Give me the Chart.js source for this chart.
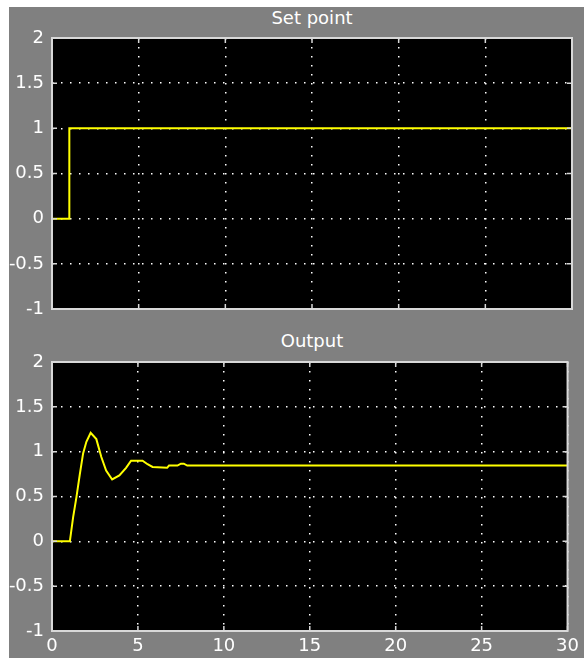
<!DOCTYPE html>
<html>
<head>
<meta charset="utf-8">
<script src="https://cdn.jsdelivr.net/npm/chart.js@4"></script>
<style>
  body { margin: 0; background: #ffffff; width: 584px; height: 658px; overflow: hidden; position: relative; }
  #fundo { position: absolute; left: 9px; top: 7px; width: 575px; height: 651px; background: #808080; }
  canvas { position: absolute; left: 0; }
  .titulo { position: absolute; left: 52px; width: 520px; text-align: center; color: #ffffff;
            font-family: "DejaVu Sans", sans-serif; font-size: 18px; line-height: 22px; }
</style>
</head>
<body>
<div id="fundo"></div>
<div class="titulo" style="top:7px">Set point</div>
<div class="titulo" style="top:330px">Output</div>
<canvas id="chartSetPoint" width="584" height="330" style="top:0"></canvas>
<canvas id="chartOutput" width="584" height="328" style="top:330px"></canvas>
<script>
const tempoSetPoint = [0, 1, 1, 30];
const valorSetPoint = [0, 0, 1, 1];

const tempoOutput = [0, 1.04, 1.23, 1.42, 1.62, 1.81, 2.0, 2.25, 2.58, 2.87, 3.15, 3.5, 3.92, 4.31, 4.6, 5.27, 5.56, 5.85, 6.7, 6.81, 7.3, 7.5, 7.67, 7.87, 30];
const valorOutput = [0, 0, 0.27, 0.49, 0.75, 0.98, 1.11, 1.21, 1.14, 0.94, 0.79, 0.69, 0.735, 0.82, 0.90, 0.90, 0.86, 0.83, 0.82, 0.845, 0.845, 0.866, 0.866, 0.845, 0.845];

const eixoX = { min: 0, max: 30, passo: 5 };
const eixoY = { min: -1, max: 2, passo: 0.5 };

const fonte = { family: "DejaVu Sans", size: 18 };

// fundo preto, borda e marcas de tick do scope
const molduraScope = {
  id: 'molduraScope',
  beforeDraw(chart) {
    const a = chart.chartArea;
    const ctx = chart.ctx;
    ctx.save();
    ctx.fillStyle = '#000000';
    ctx.fillRect(a.left, a.top, a.right - a.left, a.bottom - a.top);
    ctx.restore();
  },
  afterDraw(chart) {
    const a = chart.chartArea;
    const ctx = chart.ctx;
    ctx.save();
    ctx.strokeStyle = '#d8d8d8';
    ctx.lineWidth = 2;
    ctx.strokeRect(a.left, a.top, a.right - a.left, a.bottom - a.top);
    ctx.lineWidth = 1.5;
    chart.scales.x.ticks.forEach(t => {
      const px = chart.scales.x.getPixelForValue(t.value);
      ctx.beginPath();
      ctx.moveTo(px, a.top); ctx.lineTo(px, a.top + 5);
      ctx.moveTo(px, a.bottom); ctx.lineTo(px, a.bottom - 5);
      ctx.stroke();
    });
    chart.scales.y.ticks.forEach(t => {
      const py = chart.scales.y.getPixelForValue(t.value);
      ctx.beginPath();
      ctx.moveTo(a.left, py); ctx.lineTo(a.left + 5, py);
      ctx.moveTo(a.right, py); ctx.lineTo(a.right - 5, py);
      ctx.stroke();
    });
    ctx.restore();
  }
};

function criarScope(idCanvas, tempos, valores, mostrarX, padding) {
  const pontos = tempos.map((t, i) => ({ x: t, y: valores[i] }));
  const ctx = document.getElementById(idCanvas).getContext("2d");
  return new Chart(ctx, {
    type: 'line',
    data: {
      datasets: [{
        data: pontos,
        borderColor: '#ffff00',
        borderWidth: 2,
        pointRadius: 0,
        tension: 0,
        fill: false
      }]
    },
    options: {
      responsive: false,
      animation: false,
      layout: { padding: padding },
      plugins: { legend: { display: false }, tooltip: { enabled: false } },
      scales: {
        x: {
          type: 'linear',
          min: eixoX.min,
          max: eixoX.max,
          grid: { color: '#ffffff', lineWidth: 1.5, drawTicks: false },
          border: { display: false, dash: [1.5, 7.5] },
          ticks: { display: mostrarX, stepSize: eixoX.passo, color: '#ffffff', font: fonte, padding: 5, maxRotation: 0,
                   callback: v => v.toString() },
          afterFit: s => { s.height = mostrarX ? 27 : 0; }
        },
        y: {
          min: eixoY.min,
          max: eixoY.max,
          grid: { color: '#ffffff', lineWidth: 1.5, drawTicks: false },
          border: { display: false, dash: [1.5, 7.5] },
          ticks: { stepSize: eixoY.passo, color: '#ffffff', font: fonte, padding: 8,
                   callback: v => v.toString() },
          afterFit: s => { s.width = 52; }
        }
      }
    },
    plugins: [molduraScope]
  });
}

criarScope("chartSetPoint", tempoSetPoint, valorSetPoint, false, { top: 38, right: 12, bottom: 21, left: 0 });
criarScope("chartOutput", tempoOutput, valorOutput, true, { top: 32, right: 12, bottom: 0, left: 0 });
</script>
</body>
</html>
